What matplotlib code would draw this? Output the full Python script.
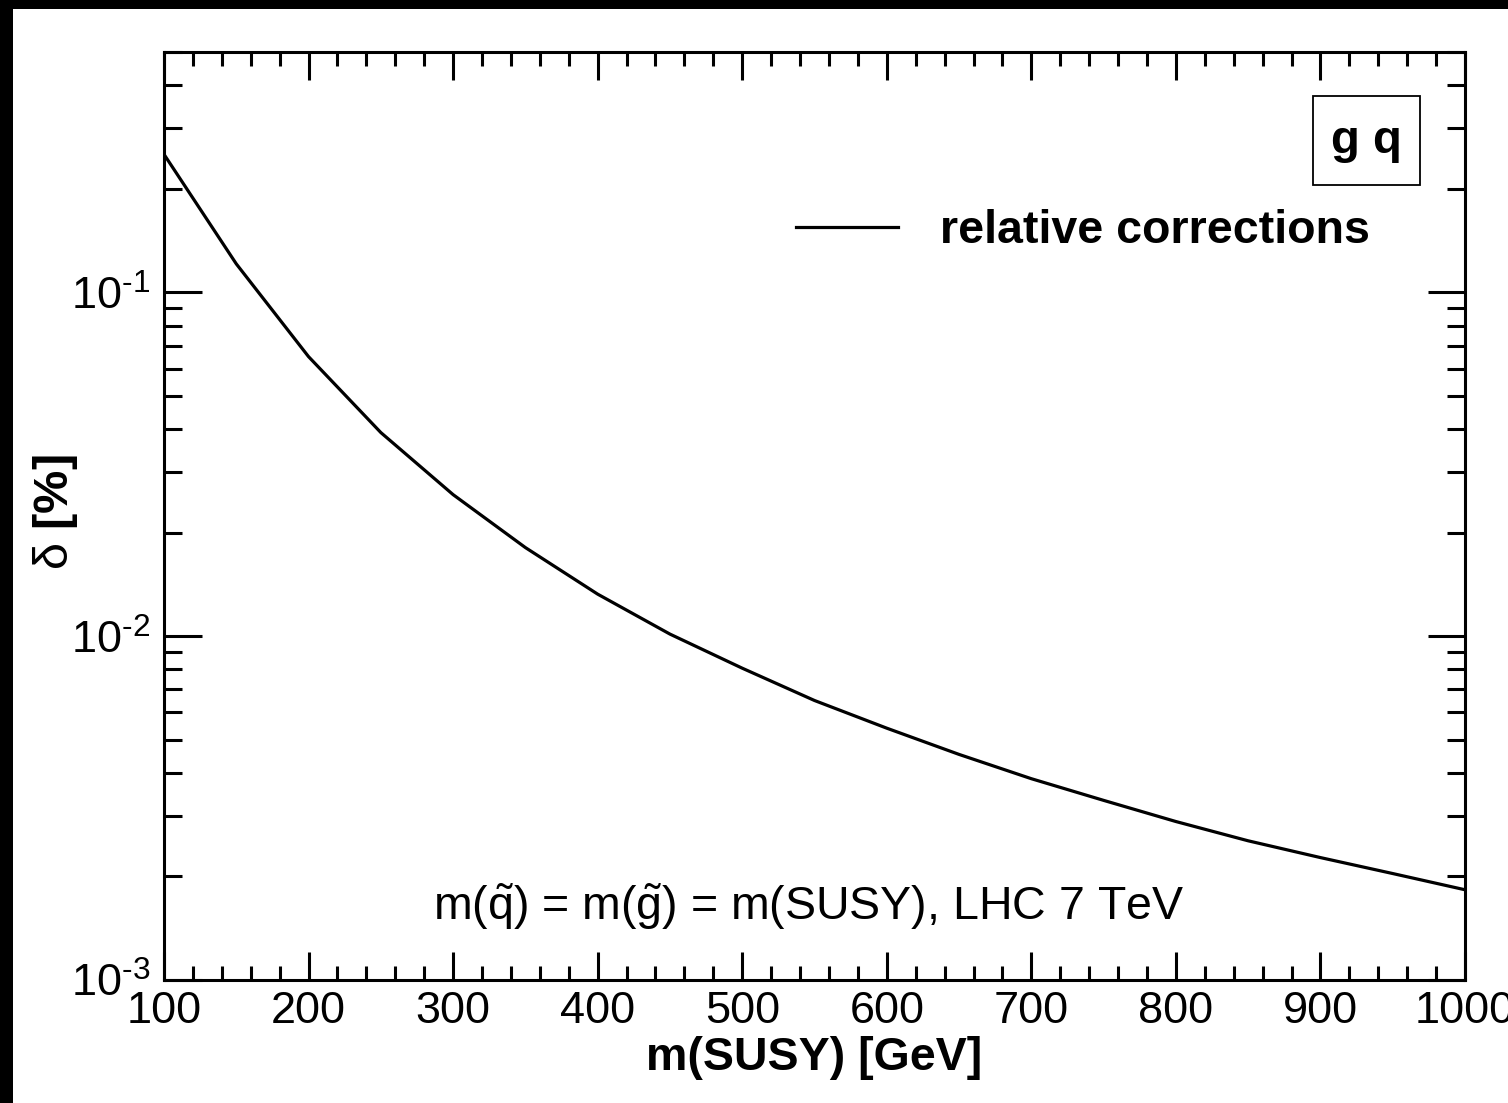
import matplotlib
matplotlib.use("Agg")
import matplotlib.pyplot as plt
from matplotlib.patches import Rectangle
from matplotlib.ticker import FixedLocator, LogLocator, NullFormatter, FixedFormatter

plt.rcParams['font.family'] = ['Liberation Sans', 'DejaVu Sans']
plt.rcParams['mathtext.fontset'] = 'custom'
plt.rcParams['mathtext.rm'] = 'Liberation Sans'
plt.rcParams['mathtext.it'] = 'Liberation Sans:italic'
plt.rcParams['mathtext.bf'] = 'Liberation Sans:bold'

# Data
m_susy = [100, 150, 200, 250, 300, 350, 400, 450, 500, 550, 600, 650, 700,
          750, 800, 850, 900, 950, 1000]
delta = [0.252, 0.121, 0.065, 0.0391, 0.0258, 0.0181, 0.01325, 0.01014,
         0.00807, 0.0065, 0.0054, 0.00453, 0.00385, 0.00333, 0.00289,
         0.00254, 0.00227, 0.00204, 0.00183]
x_ticks = [100, 200, 300, 400, 500, 600, 700, 800, 900, 1000]
x_ticklabels = ['100', '200', '300', '400', '500', '600', '700', '800', '900', '1000']
y_ticks = [1e-3, 1e-2, 1e-1]
y_ticklabels = [r'$10^{\text{-}3}$', r'$10^{\text{-}2}$', r'$10^{\text{-}1}$']

W, H = 1508, 1103
fig = plt.figure(figsize=(W / 100, H / 100), dpi=100)
fig.patch.set_facecolor('white')
# black strips at left and top edges
fig.patches.append(Rectangle((0, 0), 13 / W, 1, transform=fig.transFigure,
                             facecolor='black', edgecolor='none', zorder=0))
fig.patches.append(Rectangle((0, 1 - 9 / H), 1, 9 / H, transform=fig.transFigure,
                             facecolor='black', edgecolor='none', zorder=0))

ax = fig.add_axes([164 / W, 1 - 980 / H, (1465 - 164) / W, (980 - 52) / H])
ax.plot(m_susy, delta, color='black', lw=2.3, label='relative corrections')
ax.set_yscale('log')
ax.set_xlim(100, 1000)
ax.set_ylim(1e-3, 0.5)

for s in ax.spines.values():
    s.set_linewidth(2.2)

ax.xaxis.set_major_locator(FixedLocator(x_ticks))
ax.xaxis.set_major_formatter(FixedFormatter(x_ticklabels))
ax.xaxis.set_minor_locator(FixedLocator([v for v in range(100, 1001, 20) if v % 100]))
ax.yaxis.set_major_locator(FixedLocator(y_ticks))
ax.yaxis.set_major_formatter(FixedFormatter(y_ticklabels))
ax.yaxis.set_minor_locator(LogLocator(base=10, subs=range(2, 10)))
ax.yaxis.set_minor_formatter(NullFormatter())

ax.tick_params(axis='x', which='major', direction='in', top=True, length=20, width=2.2,
               labelsize=32.5, pad=8)
ax.tick_params(axis='x', which='minor', direction='in', top=True, length=10, width=2.2)
ax.tick_params(axis='y', which='major', direction='in', right=True, length=27, width=2.2,
               labelsize=32.5, pad=10)
ax.tick_params(axis='y', which='minor', direction='in', right=True, length=13, width=2.2)

ax.set_xlabel('m(SUSY) [GeV]', fontsize=33.5, fontweight='bold')
ax.xaxis.set_label_coords(0.5, (980 - 1058) / 928)
ax.xaxis.label.set_va('center')

fig.text(55 / W, 1 - 512 / H, r'$\mathrm{\delta}$ $\mathbf{[\%]}$', fontsize=35,
         rotation=90, ha='center', va='center')

ax.text(809 / W, 1 - 907 / H, r'm($\tilde{\mathrm{q}}$) = m($\tilde{\mathrm{g}}$) = m(SUSY), LHC 7 TeV',
        transform=fig.transFigure, fontsize=33.5, ha='center', va='center')

leg = ax.legend(loc='center left', bbox_to_anchor=(796 / W, 1 - 231 / H),
                bbox_transform=fig.transFigure, frameon=False, borderpad=0,
                borderaxespad=0, handlelength=2.2, handletextpad=0.9,
                prop={'family': 'Liberation Sans', 'weight': 'bold', 'size': 33.5})

fig.patches.append(Rectangle((1313 / W, 1 - 185 / H), (1420 - 1313) / W, (185 - 96) / H,
                             transform=fig.transFigure, facecolor='none',
                             edgecolor='black', lw=1.3, zorder=5))
fig.text(1366 / W, 1 - 141 / H, 'g q', fontsize=34, fontweight='bold',
         ha='center', va='center')

fig.savefig('out.png', dpi=100)
